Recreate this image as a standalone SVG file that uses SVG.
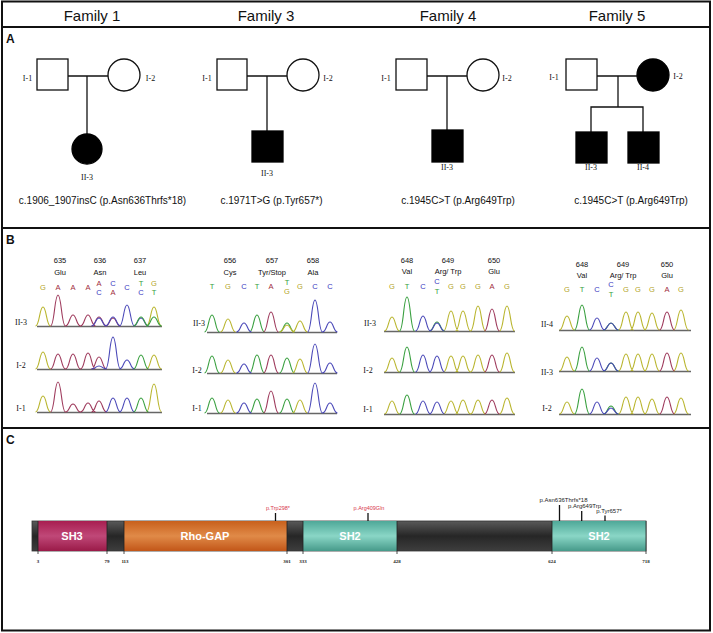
<svg xmlns="http://www.w3.org/2000/svg" width="713" height="633" viewBox="0 0 713 633">
<style>
.hd{font-family:"Liberation Sans",Arial,sans-serif;font-size:15px;text-anchor:middle;fill:#111}
.pl{font-family:"Liberation Sans",Arial,sans-serif;font-size:12px;font-weight:bold;fill:#111}
.ln{stroke:#111;stroke-width:1.3;fill:none}
.op{fill:#fff;stroke:#111;stroke-width:1.3}
.af{fill:#000;stroke:#000;stroke-width:1.3}
.id{font-family:"Liberation Serif","Times New Roman",serif;font-size:8px;text-anchor:middle;fill:#111}
.mu{font-family:"Liberation Sans",Arial,sans-serif;font-size:10px;text-anchor:middle;fill:#111}
.nm{font-family:"Liberation Sans",Arial,sans-serif;font-size:7.5px;text-anchor:middle;fill:#111}
.bs{font-family:"Liberation Sans",Arial,sans-serif;font-size:7.5px;text-anchor:middle}
.tG{fill:#b3a52a}.tA{fill:#a02a3c}.tC{fill:#3a38c0}.tT{fill:#36a040}
.pg,.pa,.pc,.pt{fill:none;stroke-width:1.1}
.pg{stroke:#b9b52e}.pa{stroke:#9e3a5c}.pc{stroke:#4a48b8}.pt{stroke:#3aa040}
.bl{stroke:#666;stroke-width:1.6}
.tk{font-family:"Liberation Serif","Times New Roman",serif;font-size:5px;font-weight:bold;text-anchor:middle;fill:#222}
.dm{font-family:"Liberation Sans",Arial,sans-serif;font-size:11px;font-weight:bold;text-anchor:middle;fill:#fff}
.mr{font-family:"Liberation Sans",Arial,sans-serif;font-size:5.5px;text-anchor:middle;fill:#d8364a}
.mb{font-family:"Liberation Sans",Arial,sans-serif;font-size:6px;text-anchor:middle;fill:#222}
.dl{stroke:#222;stroke-width:0.8}
</style>
<defs>
<linearGradient id="gDk" x1="0" y1="0" x2="0" y2="1"><stop offset="0" stop-color="#5a5a5a"/><stop offset="0.5" stop-color="#262626"/><stop offset="1" stop-color="#3e3e3e"/></linearGradient>
<linearGradient id="gSH3" x1="0" y1="0" x2="0" y2="1"><stop offset="0" stop-color="#a81e50"/><stop offset="0.5" stop-color="#c04878"/><stop offset="1" stop-color="#9a1a48"/></linearGradient>
<linearGradient id="gRho" x1="0" y1="0" x2="0" y2="1"><stop offset="0" stop-color="#c8601c"/><stop offset="0.5" stop-color="#e08a48"/><stop offset="1" stop-color="#c25618"/></linearGradient>
<linearGradient id="gSH2" x1="0" y1="0" x2="0" y2="1"><stop offset="0" stop-color="#4ea898"/><stop offset="0.5" stop-color="#8ad6c6"/><stop offset="1" stop-color="#469a8a"/></linearGradient>
</defs>
<rect x="0" y="0" width="713" height="633" fill="#fff"/>
<g id="frame" fill="none" stroke="#111" stroke-width="2">
<rect x="2" y="1.5" width="708" height="629"/>
<line x1="2" y1="27" x2="710" y2="27"/>
<line x1="2" y1="228" x2="710" y2="228"/>
<line x1="2" y1="428" x2="710" y2="428"/>
</g>
<g id="headers">
<text class="hd" x="92" y="21">Family 1</text>
<text class="hd" x="266" y="21">Family 3</text>
<text class="hd" x="448" y="21">Family 4</text>
<text class="hd" x="617" y="21">Family 5</text>
<text class="pl" x="6" y="43">A</text>
<text class="pl" x="6" y="244">B</text>
<text class="pl" x="6" y="444">C</text>
</g>
<g id="connectors">
<line class="ln" x1="68" y1="76" x2="108" y2="76"/>
<line class="ln" x1="87" y1="76" x2="87" y2="134"/>
<line class="ln" x1="247" y1="76" x2="287" y2="76"/>
<line class="ln" x1="267" y1="76" x2="267" y2="131"/>
<line class="ln" x1="427" y1="76" x2="467" y2="76"/>
<line class="ln" x1="447" y1="76" x2="447" y2="130"/>
<line class="ln" x1="597" y1="76" x2="637" y2="76"/>
<line class="ln" x1="618" y1="76" x2="618" y2="107"/>
<polyline class="ln" points="591,132 591,107 643,107 643,132"/>
</g>
<g id="fam1-ped">
<rect class="op" x="37" y="59" width="31" height="31"/>
<circle class="op" cx="124" cy="75" r="16"/>
<circle class="af" cx="87" cy="149" r="15"/>
<text class="id" x="27.5" y="81">I-1</text>
<text class="id" x="150.5" y="81">I-2</text>
<text class="id" x="87" y="180">II-3</text>
<text class="mu" x="102.5" y="204">c.1906_1907insC (p.Asn636Thrfs*18)</text>
</g>
<g id="fam3-ped">
<rect class="op" x="217" y="59" width="30" height="31"/>
<circle class="op" cx="303" cy="75" r="16"/>
<rect class="af" x="252" y="131" width="31" height="31"/>
<text class="id" x="207" y="81">I-1</text>
<text class="id" x="328" y="81">I-2</text>
<text class="id" x="267" y="176">II-3</text>
<text class="mu" x="271.5" y="204">c.1971T&gt;G (p.Tyr657*)</text>
</g>
<g id="fam4-ped">
<rect class="op" x="396" y="59" width="31" height="31"/>
<circle class="op" cx="483" cy="75" r="16"/>
<rect class="af" x="432" y="130" width="31" height="32"/>
<text class="id" x="386" y="81">I-1</text>
<text class="id" x="507" y="81">I-2</text>
<text class="id" x="447" y="170">II-3</text>
<text class="mu" x="458" y="204">c.1945C&gt;T (p.Arg649Trp)</text>
</g>
<g id="fam5-ped">
<rect class="op" x="566" y="59" width="31" height="31"/>
<circle class="af" cx="653" cy="75" r="16"/>
<rect class="af" x="576" y="132" width="31" height="31"/>
<rect class="af" x="628" y="132" width="31" height="31"/>
<text class="id" x="554" y="80">I-1</text>
<text class="id" x="678" y="79">I-2</text>
<text class="id" x="591" y="170">II-3</text>
<text class="id" x="643" y="170">II-4</text>
<text class="mu" x="631" y="204">c.1945C&gt;T (p.Arg649Trp)</text>
</g>
<g id="fam1-seq">
<text class="nm" x="60" y="263">635</text><text class="nm" x="100" y="263">636</text><text class="nm" x="140" y="263">637</text>
<text class="nm" x="60" y="275">Glu</text><text class="nm" x="100" y="275">Asn</text><text class="nm" x="140" y="275">Leu</text>
<text class="bs tG" x="43" y="290">G</text><text class="bs tA" x="58" y="290">A</text><text class="bs tA" x="73" y="290">A</text><text class="bs tA" x="88" y="290">A</text>
<text class="bs tA" x="99" y="286">A</text><text class="bs tC" x="99" y="295">C</text>
<text class="bs tC" x="113" y="286">C</text><text class="bs tA" x="113" y="295">A</text>
<text class="bs tC" x="127" y="290">C</text>
<text class="bs tT" x="141" y="286">T</text><text class="bs tC" x="141" y="295">C</text>
<text class="bs tG" x="154" y="286">G</text><text class="bs tT" x="154" y="295">T</text>
<text class="id" x="21" y="325">II-3</text><text class="id" x="21" y="368">I-2</text><text class="id" x="21" y="411">I-1</text>
<line class="bl" x1="37" y1="326.5" x2="162" y2="326.5"/>
<line class="bl" x1="37" y1="369.5" x2="162" y2="369.5"/>
<line class="bl" x1="37" y1="412.5" x2="162" y2="412.5"/>
<path class="pg" d="M35.5,326c4,0 4,-19 7.5,-19s3.5,19 7.5,19M146.5,326c4,0 4,-19 7.5,-19s3.5,19 7.5,19M35.5,369c4,0 4,-17 7.5,-17s3.5,17 7.5,17M146.5,369c4,0 4,-14 7.5,-14s3.5,14 7.5,14M35.5,412c4,0 4,-16 7.5,-16s3.5,16 7.5,16M146.5,412c4,0 4,-28 7.5,-28s3.5,28 7.5,28"/>
<path class="pa" d="M50.5,326c4,0 4,-31 7.5,-31s3.5,31 7.5,31M65.5,326c4,0 4,-11 7.5,-11s3.5,11 7.5,11M80.5,326c4,0 4,-11 7.5,-11s3.5,11 7.5,11M91.5,326c4,0 4,-9 7.5,-9s3.5,9 7.5,9M105.5,326c4,0 4,-8 7.5,-8s3.5,8 7.5,8M50.5,369c4,0 4,-15 7.5,-15s3.5,15 7.5,15M65.5,369c4,0 4,-15 7.5,-15s3.5,15 7.5,15M80.5,369c4,0 4,-16 7.5,-16s3.5,16 7.5,16M91.5,369c4,0 4,-12 7.5,-12s3.5,12 7.5,12M50.5,412c4,0 4,-30 7.5,-30s3.5,30 7.5,30M65.5,412c4,0 4,-8 7.5,-8s3.5,8 7.5,8M80.5,412c4,0 4,-9 7.5,-9s3.5,9 7.5,9M91.5,412c4,0 4,-11 7.5,-11s3.5,11 7.5,11"/>
<path class="pc" d="M91.5,326c4,0 4,-8 7.5,-8s3.5,8 7.5,8M105.5,326c4,0 4,-9 7.5,-9s3.5,9 7.5,9M119.5,326c4,0 4,-21 7.5,-21s3.5,21 7.5,21M133.5,326c4,0 4,-8 7.5,-8s3.5,8 7.5,8M91.5,369c4,0 4,-3 7.5,-3s3.5,3 7.5,3M105.5,369c4,0 4,-32 7.5,-32s3.5,32 7.5,32M119.5,369c4,0 4,-9 7.5,-9s3.5,9 7.5,9M105.5,412c4,0 4,-14 7.5,-14s3.5,14 7.5,14M119.5,412c4,0 4,-14 7.5,-14s3.5,14 7.5,14"/>
<path class="pt" d="M133.5,326c4,0 4,-9 7.5,-9s3.5,9 7.5,9M146.5,326c4,0 4,-9 7.5,-9s3.5,9 7.5,9M133.5,369c4,0 4,-14 7.5,-14s3.5,14 7.5,14M133.5,412c4,0 4,-14 7.5,-14s3.5,14 7.5,14"/>
</g>
<g id="fam3-seq">
<text class="nm" x="230" y="263">656</text><text class="nm" x="272" y="263">657</text><text class="nm" x="313" y="263">658</text>
<text class="nm" x="230" y="275">Cys</text><text class="nm" x="272" y="275">Tyr/Stop</text><text class="nm" x="313" y="275">Ala</text>
<text class="bs tT" x="212" y="289">T</text><text class="bs tG" x="228" y="289">G</text><text class="bs tC" x="244" y="289">C</text><text class="bs tT" x="257" y="289">T</text><text class="bs tA" x="271" y="289">A</text>
<text class="bs tT" x="287" y="285">T</text><text class="bs tG" x="287" y="294">G</text>
<text class="bs tG" x="300" y="289">G</text><text class="bs tC" x="315" y="289">C</text><text class="bs tC" x="330" y="289">C</text>
<text class="id" x="199" y="326">II-3</text><text class="id" x="197" y="373">I-2</text><text class="id" x="197" y="411">I-1</text>
<line class="bl" x1="207" y1="332.5" x2="337" y2="332.5"/>
<line class="bl" x1="207" y1="373.5" x2="337" y2="373.5"/>
<line class="bl" x1="207" y1="413.5" x2="337" y2="413.5"/>
<path class="pt" d="M204.5,332c4,0 4,-17 7.5,-17s3.5,17 7.5,17M249.5,332c4,0 4,-17 7.5,-17s3.5,17 7.5,17M279.5,332c4,0 4,-9 7.5,-9s3.5,9 7.5,9M204.5,373c4,0 4,-17 7.5,-17s3.5,17 7.5,17M249.5,373c4,0 4,-18 7.5,-18s3.5,18 7.5,18M279.5,373c4,0 4,-15 7.5,-15s3.5,15 7.5,15M204.5,413c4,0 4,-15 7.5,-15s3.5,15 7.5,15M249.5,413c4,0 4,-14 7.5,-14s3.5,14 7.5,14M279.5,413c4,0 4,-14 7.5,-14s3.5,14 7.5,14"/>
<path class="pg" d="M220.5,332c4,0 4,-13 7.5,-13s3.5,13 7.5,13M279.5,332c4,0 4,-7 7.5,-7s3.5,7 7.5,7M292.5,332c4,0 4,-11 7.5,-11s3.5,11 7.5,11M220.5,373c4,0 4,-13 7.5,-13s3.5,13 7.5,13M292.5,373c4,0 4,-14 7.5,-14s3.5,14 7.5,14M220.5,413c4,0 4,-13 7.5,-13s3.5,13 7.5,13M292.5,413c4,0 4,-13 7.5,-13s3.5,13 7.5,13"/>
<path class="pc" d="M236.5,332c4,0 4,-9 7.5,-9s3.5,9 7.5,9M307.5,332c4,0 4,-32 7.5,-32s3.5,32 7.5,32M322.5,332c4,0 4,-10 7.5,-10s3.5,10 7.5,10M236.5,373c4,0 4,-9 7.5,-9s3.5,9 7.5,9M307.5,373c4,0 4,-29 7.5,-29s3.5,29 7.5,29M322.5,373c4,0 4,-10 7.5,-10s3.5,10 7.5,10M236.5,413c4,0 4,-10 7.5,-10s3.5,10 7.5,10M307.5,413c4,0 4,-30 7.5,-30s3.5,30 7.5,30M322.5,413c4,0 4,-10 7.5,-10s3.5,10 7.5,10"/>
<path class="pa" d="M263.5,332c4,0 4,-20 7.5,-20s3.5,20 7.5,20M263.5,373c4,0 4,-18 7.5,-18s3.5,18 7.5,18M263.5,413c4,0 4,-22 7.5,-22s3.5,22 7.5,22"/>
</g>
<g id="fam4-seq">
<text class="nm" x="407" y="263">648</text><text class="nm" x="448" y="263">649</text><text class="nm" x="494" y="263">650</text>
<text class="nm" x="407" y="274">Val</text><text class="nm" x="448" y="274">Arg/ Trp</text><text class="nm" x="494" y="274">Glu</text>
<text class="bs tG" x="392" y="289">G</text><text class="bs tT" x="407" y="289">T</text><text class="bs tC" x="423" y="289">C</text>
<text class="bs tC" x="437" y="284">C</text><text class="bs tT" x="437" y="294">T</text>
<text class="bs tG" x="451" y="289">G</text><text class="bs tG" x="463" y="289">G</text><text class="bs tG" x="478" y="289">G</text><text class="bs tA" x="492" y="289">A</text><text class="bs tG" x="507" y="289">G</text>
<text class="id" x="370" y="326">II-3</text><text class="id" x="368" y="373">I-2</text><text class="id" x="368" y="412">I-1</text>
<line class="bl" x1="384" y1="331.5" x2="515" y2="331.5"/>
<line class="bl" x1="384" y1="372.5" x2="515" y2="372.5"/>
<line class="bl" x1="384" y1="414.5" x2="515" y2="414.5"/>
<path class="pg" d="M384.5,331c4,0 4,-14 7.5,-14s3.5,14 7.5,14M443.5,331c4,0 4,-20 7.5,-20s3.5,20 7.5,20M455.5,331c4,0 4,-20 7.5,-20s3.5,20 7.5,20M470.5,331c4,0 4,-25 7.5,-25s3.5,25 7.5,25M499.5,331c4,0 4,-25 7.5,-25s3.5,25 7.5,25M384.5,372c4,0 4,-14 7.5,-14s3.5,14 7.5,14M443.5,372c4,0 4,-16 7.5,-16s3.5,16 7.5,16M455.5,372c4,0 4,-16 7.5,-16s3.5,16 7.5,16M470.5,372c4,0 4,-17 7.5,-17s3.5,17 7.5,17M499.5,372c4,0 4,-19 7.5,-19s3.5,19 7.5,19M384.5,414c4,0 4,-13 7.5,-13s3.5,13 7.5,13M443.5,414c4,0 4,-13 7.5,-13s3.5,13 7.5,13M455.5,414c4,0 4,-14 7.5,-14s3.5,14 7.5,14M470.5,414c4,0 4,-14 7.5,-14s3.5,14 7.5,14M499.5,414c4,0 4,-16 7.5,-16s3.5,16 7.5,16"/>
<path class="pt" d="M399.5,331c4,0 4,-34 7.5,-34s3.5,34 7.5,34M429.5,331c4,0 4,-9 7.5,-9s3.5,9 7.5,9M399.5,372c4,0 4,-25 7.5,-25s3.5,25 7.5,25M399.5,414c4,0 4,-19 7.5,-19s3.5,19 7.5,19"/>
<path class="pc" d="M415.5,331c4,0 4,-15 7.5,-15s3.5,15 7.5,15M429.5,331c4,0 4,-8 7.5,-8s3.5,8 7.5,8M415.5,372c4,0 4,-17 7.5,-17s3.5,17 7.5,17M429.5,372c4,0 4,-16 7.5,-16s3.5,16 7.5,16M415.5,414c4,0 4,-13 7.5,-13s3.5,13 7.5,13M429.5,414c4,0 4,-12 7.5,-12s3.5,12 7.5,12"/>
<path class="pa" d="M484.5,331c4,0 4,-22 7.5,-22s3.5,22 7.5,22M484.5,372c4,0 4,-17 7.5,-17s3.5,17 7.5,17M484.5,414c4,0 4,-14 7.5,-14s3.5,14 7.5,14"/>
</g>
<g id="fam5-seq">
<text class="nm" x="582" y="267">648</text><text class="nm" x="623" y="267">649</text><text class="nm" x="667" y="267">650</text>
<text class="nm" x="582" y="278">Val</text><text class="nm" x="623" y="278">Arg/ Trp</text><text class="nm" x="667" y="278">Glu</text>
<text class="bs tG" x="567" y="292">G</text><text class="bs tT" x="582" y="292">T</text><text class="bs tC" x="597" y="292">C</text>
<text class="bs tC" x="611" y="287">C</text><text class="bs tT" x="611" y="297">T</text>
<text class="bs tG" x="626" y="292">G</text><text class="bs tG" x="638" y="292">G</text><text class="bs tG" x="652" y="292">G</text><text class="bs tA" x="667" y="292">A</text><text class="bs tG" x="681" y="292">G</text>
<text class="id" x="547" y="327">II-4</text><text class="id" x="547" y="375">II-3</text><text class="id" x="547" y="411">I-2</text>
<line class="bl" x1="559" y1="330.5" x2="691" y2="330.5"/>
<line class="bl" x1="559" y1="371.5" x2="691" y2="371.5"/>
<line class="bl" x1="559" y1="414.5" x2="691" y2="414.5"/>
<path class="pg" d="M559.5,330c4,0 4,-14 7.5,-14s3.5,14 7.5,14M618.5,330c4,0 4,-18 7.5,-18s3.5,18 7.5,18M630.5,330c4,0 4,-18 7.5,-18s3.5,18 7.5,18M644.5,330c4,0 4,-17 7.5,-17s3.5,17 7.5,17M673.5,330c4,0 4,-20 7.5,-20s3.5,20 7.5,20M559.5,371c4,0 4,-14 7.5,-14s3.5,14 7.5,14M618.5,371c4,0 4,-17 7.5,-17s3.5,17 7.5,17M630.5,371c4,0 4,-17 7.5,-17s3.5,17 7.5,17M644.5,371c4,0 4,-17 7.5,-17s3.5,17 7.5,17M673.5,371c4,0 4,-18 7.5,-18s3.5,18 7.5,18M559.5,414c4,0 4,-12 7.5,-12s3.5,12 7.5,12M618.5,414c4,0 4,-17 7.5,-17s3.5,17 7.5,17M630.5,414c4,0 4,-17 7.5,-17s3.5,17 7.5,17M644.5,414c4,0 4,-15 7.5,-15s3.5,15 7.5,15M673.5,414c4,0 4,-16 7.5,-16s3.5,16 7.5,16"/>
<path class="pt" d="M574.5,330c4,0 4,-25 7.5,-25s3.5,25 7.5,25M603.5,330c4,0 4,-7 7.5,-7s3.5,7 7.5,7M574.5,371c4,0 4,-24 7.5,-24s3.5,24 7.5,24M603.5,371c4,0 4,-8 7.5,-8s3.5,8 7.5,8M574.5,414c4,0 4,-25 7.5,-25s3.5,25 7.5,25M603.5,414c4,0 4,-8 7.5,-8s3.5,8 7.5,8"/>
<path class="pc" d="M589.5,330c4,0 4,-12 7.5,-12s3.5,12 7.5,12M603.5,330c4,0 4,-7 7.5,-7s3.5,7 7.5,7M589.5,371c4,0 4,-13 7.5,-13s3.5,13 7.5,13M603.5,371c4,0 4,-8 7.5,-8s3.5,8 7.5,8M589.5,414c4,0 4,-12 7.5,-12s3.5,12 7.5,12M603.5,414c4,0 4,-6 7.5,-6s3.5,6 7.5,6"/>
<path class="pa" d="M659.5,330c4,0 4,-18 7.5,-18s3.5,18 7.5,18M659.5,371c4,0 4,-18 7.5,-18s3.5,18 7.5,18M659.5,414c4,0 4,-17 7.5,-17s3.5,17 7.5,17"/>
</g>
<g id="protein">
<rect x="32" y="521" width="614" height="30" fill="url(#gDk)" stroke="#333" stroke-width="0.8"/>
<rect x="38" y="521" width="69" height="30" fill="url(#gSH3)"/>
<rect x="124" y="521" width="163" height="30" fill="url(#gRho)"/>
<rect x="303" y="521" width="94" height="30" fill="url(#gSH2)"/>
<rect x="552" y="521" width="94" height="30" fill="url(#gSH2)"/>
<line class="dl" x1="38" y1="521" x2="38" y2="554"/>
<line class="dl" x1="107" y1="521" x2="107" y2="554"/>
<line class="dl" x1="124" y1="521" x2="124" y2="554"/>
<line class="dl" x1="287" y1="521" x2="287" y2="554"/>
<line class="dl" x1="303" y1="521" x2="303" y2="554"/>
<line class="dl" x1="397" y1="521" x2="397" y2="554"/>
<line class="dl" x1="552" y1="521" x2="552" y2="554"/>
<line class="dl" x1="646" y1="521" x2="646" y2="554"/>
<text class="dm" x="72" y="540">SH3</text>
<text class="dm" x="205" y="540">Rho-GAP</text>
<text class="dm" x="350" y="540">SH2</text>
<text class="dm" x="599" y="540">SH2</text>
<text class="tk" x="38" y="563">3</text>
<text class="tk" x="107" y="563">79</text>
<text class="tk" x="125" y="563">113</text>
<text class="tk" x="287" y="563">301</text>
<text class="tk" x="303" y="563">333</text>
<text class="tk" x="397" y="563">428</text>
<text class="tk" x="552" y="563">624</text>
<text class="tk" x="646" y="563">718</text>
<line class="ln" x1="275.5" y1="513" x2="275.5" y2="521"/>
<line class="ln" x1="368" y1="513" x2="368" y2="521"/>
<line class="ln" x1="559.5" y1="505" x2="559.5" y2="521"/>
<line class="ln" x1="581.7" y1="511" x2="581.7" y2="521"/>
<line class="ln" x1="605" y1="515.5" x2="605" y2="521"/>
<text class="mr" x="278" y="510">p.Trp298*</text>
<text class="mr" x="369" y="510">p.Arg409Gln</text>
<text class="mb" x="563.5" y="501.5">p.Asn636Thrfs*18</text>
<text class="mb" x="584.5" y="507.5">p.Arg649Trp</text>
<text class="mb" x="609" y="513">p.Tyr657*</text>
</g>
</svg>
